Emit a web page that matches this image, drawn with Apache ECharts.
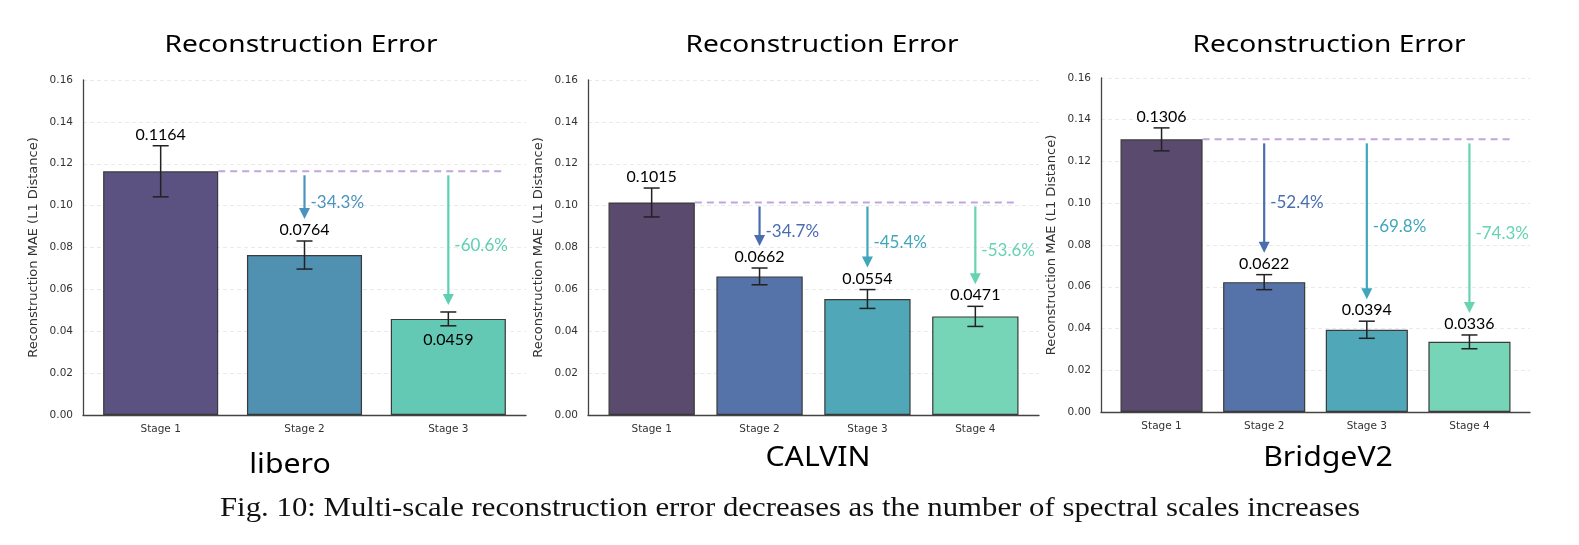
<!DOCTYPE html>
<html>
<head>
<meta charset="utf-8">
<script src="https://cdn.jsdelivr.net/npm/echarts@6/dist/echarts.min.js"></script>
<style>
	html, body { margin: 0; padding: 0; background: #fff; }
	#chart { width: 1579px; height: 545px; }
</style>
</head>
<body>
<div id="chart"></div>
<script>
// data
var stages3 = ['Stage 1', 'Stage 2', 'Stage 3'];
var stages4 = ['Stage 1', 'Stage 2', 'Stage 3', 'Stage 4'];

var liberoMAE = [0.1164, 0.0764, 0.0459];
var liberoErr = [0.0122, 0.0067, 0.0033];
var liberoDrop = ['', '-34.3%', '-60.6%'];

var calvinMAE = [0.1015, 0.0662, 0.0554, 0.0471];
var calvinErr = [0.0069, 0.0040, 0.0045, 0.0048];
var calvinDrop = ['', '-34.7%', '-45.4%', '-53.6%'];

var bridgeMAE = [0.1306, 0.0622, 0.0394, 0.0336];
var bridgeErr = [0.0055, 0.0036, 0.0041, 0.0033];
var bridgeDrop = ['', '-52.4%', '-69.8%', '-74.3%'];

var yMin = 0, yMax = 0.16, yStep = 0.02;

var Figure = {
	panels: [
		{
			name: 'libero', stages: stages3, mae: liberoMAE, err: liberoErr, drop: liberoDrop,
			barColors: ['#5b5282', '#5090b0', '#63c9b5'],
			arrowColors: ['', '#4b93bd', '#5dcfb3'],
			labelBelow: [false, false, true],
			grid: { left: 83, top: 80, width: 443, height: 335 },
			pad: 0.54, titleX: 301, nameX: 290, nameY: 465
		},
		{
			name: 'CALVIN', stages: stages4, mae: calvinMAE, err: calvinErr, drop: calvinDrop,
			barColors: ['#594a6e', '#5573a9', '#50a7b8', '#77d5b7'],
			arrowColors: ['', '#4a6db0', '#40a6ba', '#66d3b3'],
			labelBelow: [false, false, false, false],
			grid: { left: 588, top: 80, width: 451, height: 335 },
			pad: 0.59, titleX: 822, nameX: 818, nameY: 458
		},
		{
			name: 'BridgeV2', stages: stages4, mae: bridgeMAE, err: bridgeErr, drop: bridgeDrop,
			barColors: ['#594a6e', '#5573a9', '#50a7b8', '#77d5b7'],
			arrowColors: ['', '#4a6db0', '#40a6ba', '#66d3b3'],
			labelBelow: [false, false, false, false],
			grid: { left: 1101, top: 78, width: 429, height: 334 },
			pad: 0.59, titleX: 1329, nameX: 1328, nameY: 458
		}
	],
	init: function(){

		var option = {
			animation: false,
			grid: [], xAxis: [], yAxis: [], series: [],
			graphic: []
		};
		for(var k = 0; k < this.panels.length; k++){
			this.addPanel(option, k, this.panels[k]);
		}
		option.graphic.push({
			type: 'text', x: 790, y: 509, scaleX: 1.1,
			style: {
				text: 'Fig. 10: Multi-scale reconstruction error decreases as the number of spectral scales increases',
				font: '28px "Liberation Serif", "Times New Roman", serif',
				fill: '#111', align: 'center', verticalAlign: 'middle'
			}
		});

		var myChart = echarts.init(document.getElementById('chart'), null, { renderer: 'canvas' });
		myChart.setOption(option);
	},
	addPanel: function(option, k, p){

		var n = p.stages.length;

		option.grid.push(p.grid);
		option.xAxis.push({
			gridIndex: k,
			type: 'value',
			min: -p.pad,
			max: n - 1 + p.pad,
			axisLine: { show: true, onZero: false, lineStyle: { color: '#444', width: 1.3 } },
			axisTick: { show: false },
			splitLine: { show: false },
			axisLabel: {
				margin: 9,
				fontSize: 10.5,
				color: '#333',
				fontFamily: 'DejaVu Sans',
				formatter: function(v){
					return (Math.abs(v - Math.round(v)) < 1e-6 && v >= 0 && v < n) ? p.stages[Math.round(v)] : '';
				}
			}
		});
		option.yAxis.push({
			gridIndex: k,
			type: 'value',
			min: yMin,
			max: yMax,
			interval: yStep,
			name: 'Reconstruction MAE (L1 Distance)',
			nameLocation: 'middle',
			nameGap: 43,
			nameTextStyle: { fontSize: 13, color: '#333', fontFamily: 'DejaVu Sans' },
			axisLine: { show: true, onZero: false, lineStyle: { color: '#444', width: 1.3 } },
			axisTick: { show: false },
			splitLine: { show: true, lineStyle: { color: '#e4e4e4', type: [4, 3], width: 0.8 } },
			axisLabel: {
				margin: 10,
				fontSize: 10.5,
				color: '#333',
				fontFamily: 'DejaVu Sans',
				formatter: function(v){ return v.toFixed(2); }
			}
		});

		var barData = [], errData = [], arrowData = [];
		for(var i = 0; i < n; i++){
			barData.push({
				value: [i, p.mae[i]],
				itemStyle: { color: p.barColors[i] }
			});
			errData.push([i, p.mae[i], p.err[i]]);
			arrowData.push([i, p.mae[i], p.err[i], p.mae[0]]);
		}

		option.series.push({
			type: 'bar',
			xAxisIndex: k, yAxisIndex: k,
			barWidth: '80%',
			data: barData,
			itemStyle: { borderColor: '#3a3a3a', borderWidth: 1.2 },
			z: 2
		});

		// error bars with value labels
		option.series.push({
			type: 'custom',
			xAxisIndex: k, yAxisIndex: k,
			clip: false,
			z: 5,
			data: errData,
			renderItem: function(params, api){
				var i = api.value(0), v = api.value(1), e = api.value(2);
				var top = api.coord([i, v + e]);
				var bot = api.coord([i, v - e]);
				var barTop = api.coord([i, v]);
				var cap = 8;
				var ls = { stroke: '#222', lineWidth: 1.5 };
				var labelY = p.labelBelow[i] ? barTop[1] + 21 : top[1] - 11;
				return {
					type: 'group',
					children: [
						{ type: 'line', shape: { x1: top[0], y1: top[1], x2: bot[0], y2: bot[1] }, style: ls },
						{ type: 'line', shape: { x1: top[0] - cap, y1: top[1], x2: top[0] + cap, y2: top[1] }, style: ls },
						{ type: 'line', shape: { x1: bot[0] - cap, y1: bot[1], x2: bot[0] + cap, y2: bot[1] }, style: ls },
						{
							type: 'text',
							x: top[0], y: labelY,
							style: {
								text: v.toFixed(4),
								font: '16px Lato, "Open Sans", sans-serif',
								fill: '#000',
								align: 'center',
								verticalAlign: 'middle'
							}
						}
					]
				};
			}
		});

		// baseline and reduction arrows
		option.series.push({
			type: 'custom',
			xAxisIndex: k, yAxisIndex: k,
			clip: false,
			z: 4,
			data: arrowData,
			renderItem: function(params, api){
				var i = api.value(0), v = api.value(1), e = api.value(2), v0 = api.value(3);
				var band = api.size([1, 0])[0];
				var base = api.coord([0, v0]);
				if(i === 0){
					var last = api.coord([n - 1, v0]);
					return {
						type: 'line',
						shape: { x1: base[0] + band * 0.4, y1: base[1], x2: last[0] + band * 0.4, y2: base[1] },
						style: { stroke: '#c0a6da', lineWidth: 2, lineDash: [7, 5] }
					};
				}
				var top = api.coord([i, v + e]);
				var x = top[0];
				var y1 = base[1] + 4;
				var y2 = top[1] - (p.labelBelow[i] ? 7 : 22);
				var head = 11, hw = 5.5;
				var c = p.arrowColors[i];
				return {
					type: 'group',
					children: [
						{ type: 'line', shape: { x1: x, y1: y1, x2: x, y2: y2 - head + 2 }, style: { stroke: c, lineWidth: 2.2 } },
						{ type: 'polygon', shape: { points: [[x - hw, y2 - head], [x + hw, y2 - head], [x, y2]] }, style: { fill: c } },
						{
							type: 'text',
							x: x + 6, y: (y1 + y2) / 2 + 5,
							style: {
								text: p.drop[i],
								font: '17px Lato, "Open Sans", sans-serif',
								fill: c,
								align: 'left',
								verticalAlign: 'middle'
							}
						}
					]
				};
			}
		});

		option.graphic.push({
			type: 'text', x: p.titleX, y: 45, scaleX: 1.17,
			style: {
				text: 'Reconstruction Error',
				font: '24px "Comic Sans MS", "Noto Sans", sans-serif',
				fill: '#000', align: 'center', verticalAlign: 'middle'
			}
		});
		option.graphic.push({
			type: 'text', x: p.nameX, y: p.nameY, scaleX: 1.12,
			style: {
				text: p.name,
				font: '27px "Comic Sans MS", "Noto Sans", sans-serif',
				fill: '#000', align: 'center', verticalAlign: 'middle'
			}
		});
	}
};

Figure.init();
</script>
</body>
</html>
